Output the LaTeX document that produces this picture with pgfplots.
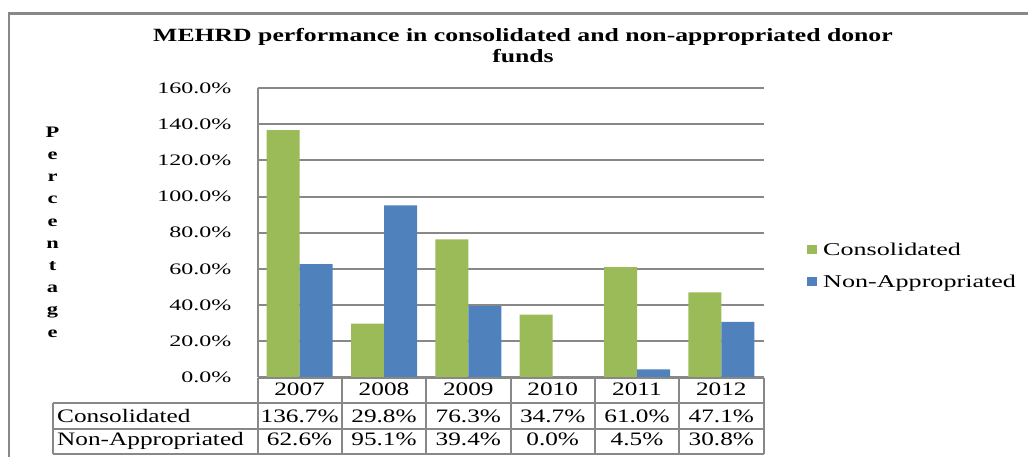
\documentclass[border=0pt]{standalone}
\usepackage{pgfplots}
\pgfplotsset{compat=1.18}
\usepackage{pgfplotstable}
\usepackage{fontspec}
\setmainfont{Liberation Serif}
\newfontfamily\tickfont{Liberation Serif}[FakeStretch=1.5]
\newfontfamily\tabfont{Liberation Serif}[FakeStretch=1.33]
\newfontfamily\legfont{Liberation Serif}[FakeStretch=1.45]
\newfontfamily\titfont{Liberation Serif Bold}[FakeStretch=1.375]
\newfontfamily\lblfont{Liberation Serif Bold}[FakeStretch=1.4]
\definecolor{cgreen}{HTML}{9BBB59}
\definecolor{cblue}{HTML}{4F81BD}
\definecolor{gline}{HTML}{888888}

\pgfplotstableread{
x cons nonapp
0.5 136.7 62.6
1.5 29.8 95.1
2.5 76.3 39.4
3.5 34.7 0.0
4.5 61.0 4.5
5.5 47.1 30.8
}\datatab

\begin{document}
\begin{tikzpicture}[x=1pt,y=1pt]
\path[use as bounding box] (0,0) rectangle (1028,457);
% outer frame
\draw[gline, line width=2.5pt] (9,-10) -- (9,443.3) -- (1040,443.3);
% title
\node[inner sep=0pt, anchor=north, align=center,
      font=\titfont\fontsize{18.7}{21}\selectfont] at (523,428.5)
  {MEHRD performance in consolidated and non-appropriated donor\\funds};
% y label
\node[inner sep=0pt, align=center, font=\lblfont\fontsize{16}{22.2}\selectfont]
  at (52.5,225) {P\\e\\r\\c\\e\\n\\t\\a\\g\\e};

\begin{axis}[
  at={(257.5pt,79.5pt)}, anchor=south west,
  scale only axis, width=506pt, height=289.5pt,
  xmin=0, xmax=6, ymin=0, ymax=160,
  ybar=0pt, bar width=33pt,
  xtick=\empty,
  ytick={0,20,40,60,80,100,120,140,160},
  yticklabels={0.0\%,20.0\%,40.0\%,60.0\%,80.0\%,100.0\%,120.0\%,140.0\%,160.0\%},
  yticklabel style={font=\tickfont\fontsize{16}{19}\selectfont, anchor=east, inner sep=0pt, xshift=-26pt},
  major tick length=0pt,
  ymajorgrids, grid style={gline, line width=2pt},
  axis x line=none, axis y line*=left,
  axis line style={gline, line width=2pt, -},
  legend style={at={(axis description cs:1.085,0.382)}, anchor=west, draw=none, fill=none,
    inner sep=0pt, row sep=16.5pt,
    font=\legfont\fontsize{18}{21}\selectfont,
    nodes={inner xsep=0pt, inner ysep=0pt, text height=12pt, text depth=3pt},
    /tikz/every odd column/.append style={column sep=6pt}},
  legend cell align=left,
  legend image code/.code={\fill[#1] (0pt,-3pt) rectangle (10.5pt,6pt);},
  clip=false,
]
\addplot[fill=cgreen, draw=none] table[x=x, y=cons] {\datatab};
\addlegendentry{Consolidated}
\addplot[fill=cblue, draw=none] table[x=x, y=nonapp] {\datatab};
\addlegendentry{Non-Appropriated}
\end{axis}

% data table
\begin{scope}[gline, line width=2pt]
\draw (257.5,79.3) -- (763.5,79.3);
\draw (53,54.3) -- (763.5,54.3);
\draw (53,27.7) -- (763.5,27.7);
\draw (53,3) -- (763.5,3);
\draw (53,54.3) -- (53,3);
\foreach \xx in {257.5,341.8,426.2,510.5,594.8,679.2,763.5} {\draw (\xx,79.3) -- (\xx,3);}
\end{scope}
\begin{scope}[every node/.style={inner sep=0pt, anchor=base, font=\tabfont\fontsize{19}{22}\selectfont}]
\node at (299.6,61.3) {2007};
\node at (384,61.3) {2008};
\node at (468.3,61.3) {2009};
\node at (552.7,61.3) {2010};
\node at (637,61.3) {2011};
\node at (721.3,61.3) {2012};
\node[anchor=base west] at (57,34.7) {Consolidated};
\node at (299.6,34.7) {136.7\%};
\node at (384,34.7) {29.8\%};
\node at (468.3,34.7) {76.3\%};
\node at (552.7,34.7) {34.7\%};
\node at (637,34.7) {61.0\%};
\node at (721.3,34.7) {47.1\%};
\node[anchor=base west] at (57,11) {Non-Appropriated};
\node at (299.6,11) {62.6\%};
\node at (384,11) {95.1\%};
\node at (468.3,11) {39.4\%};
\node at (552.7,11) {0.0\%};
\node at (637,11) {4.5\%};
\node at (721.3,11) {30.8\%};
\end{scope}
\end{tikzpicture}
\end{document}
